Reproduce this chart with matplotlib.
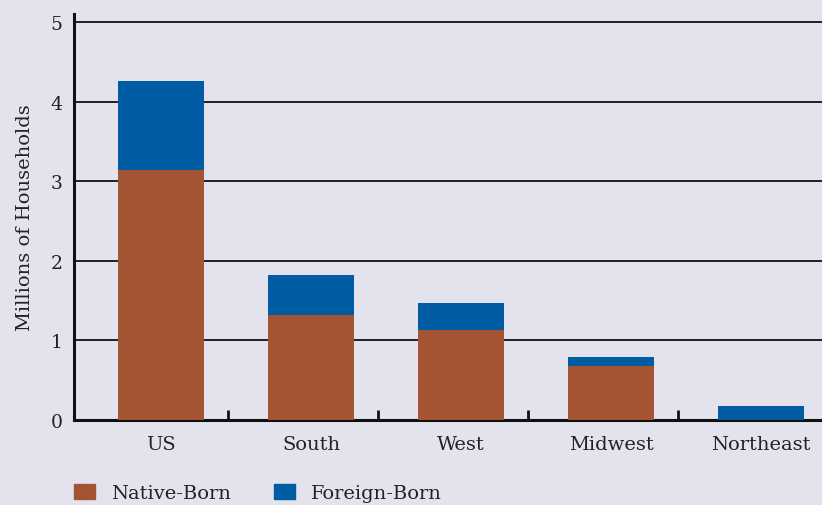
import matplotlib
matplotlib.use("Agg")
import matplotlib.pyplot as plt
from matplotlib.patches import Patch

categories = ["US", "South", "West", "Midwest", "Northeast"]
native_born = [3.14, 1.32, 1.13, 0.68, 0.0]
foreign_born = [1.12, 0.50, 0.34, 0.11, 0.18]
y_ticks = [0, 1, 2, 3, 4, 5]

native_color = "#a55433"
foreign_color = "#005da3"
bg = "#e3e3ee"
text_color = "#222222"

plt.rcParams["font.family"] = ["DejaVu Serif"]

fig = plt.figure(figsize=(8.22, 5.06), dpi=100, facecolor=bg)
ax = fig.add_axes([0.09, 0.168, 0.91, 0.802], facecolor=bg)

x = list(range(len(categories)))
ax.bar(x, native_born, width=0.573, color=native_color, zorder=3)
ax.bar(x, foreign_born, width=0.573, bottom=native_born, color=foreign_color, zorder=3)

ax.set_xlim(-0.58, 4.407)
ax.set_ylim(0, 5.1)
ax.set_yticks(y_ticks)
ax.set_yticklabels([str(t) for t in y_ticks], fontsize=13.5, color=text_color)
ax.tick_params(axis="y", length=0, pad=8)
ax.yaxis.grid(True, color="#111111", linewidth=1.3, zorder=1)
ax.set_axisbelow(True)

ax.set_xticks(x)
ax.set_xticklabels(categories, fontsize=14, color=text_color)
ax.tick_params(axis="x", which="major", length=0, pad=11)
ax.set_xticks([i + 0.45 for i in range(len(categories) - 1)], minor=True)
ax.tick_params(axis="x", which="minor", direction="in", length=7, width=2, color="#111111")

for s in ["top", "right"]:
    ax.spines[s].set_visible(False)
for s in ["left", "bottom"]:
    ax.spines[s].set_linewidth(2.2)
    ax.spines[s].set_color("#111111")

ax.set_ylabel("Millions of Households", fontsize=14, color=text_color, labelpad=12)

handles = [Patch(color=native_color, label="Native-Born"),
           Patch(color=foreign_color, label="Foreign-Born")]
fig.legend(handles=handles, loc="lower left", bbox_to_anchor=(0.09, 0.006),
           ncol=2, frameon=False, fontsize=14, handlelength=1.08, handleheight=0.82,
           columnspacing=2.2, handletextpad=0.82, borderpad=0, borderaxespad=0,
           labelcolor=text_color)

fig.savefig("out.png", dpi=100, facecolor=bg)
